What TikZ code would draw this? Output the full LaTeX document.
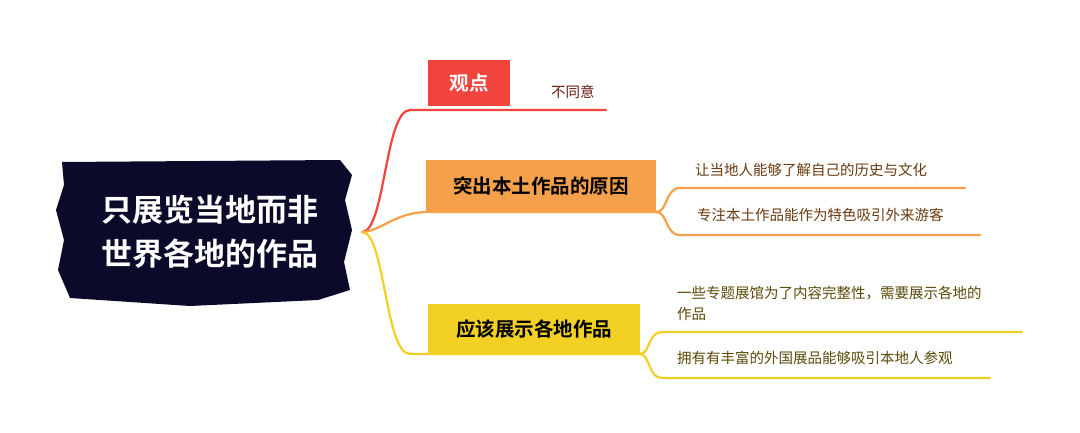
\documentclass[tikz,border=0pt]{standalone}
\usepackage{fontspec}
\setmainfont{Noto Sans CJK SC}
\newfontfamily\cjkb{Noto Sans CJK SC Bold}
\begin{document}
\begin{tikzpicture}[x=1pt,y=-1pt,
  leaf/.style={anchor=west,inner sep=0pt,font=\fontsize{14.5}{18}\selectfont},
  br/.style={inner sep=0pt,font=\cjkb\fontsize{19.5}{22}\selectfont,text=black},
  ln/.style={line width=2.2pt,line cap=round}]
\definecolor{navy}{HTML}{0B0A2A}
\definecolor{rd}{HTML}{F0443C}
\definecolor{org}{HTML}{F5A04A}
\definecolor{yel}{HTML}{F2D024}
\definecolor{dred}{HTML}{6A1A14}
\definecolor{dorg}{HTML}{6A3A10}
\definecolor{dyel}{HTML}{5A4A08}
\useasboundingbox (0,0) rectangle (1080,433);
\fill[white] (0,0) rectangle (1080,433);
% root
\fill[navy] (62,162) -- (340,160) -- (352,175) -- (345,200) -- (352,230) -- (344,262) -- (350,290) -- (318,300) -- (190,306) -- (70,298) -- (58,270) -- (64,240) -- (56,210) -- (64,185) -- cycle;
\node[inner sep=0pt,text=white,align=center,font=\cjkb\fontsize{31}{44}\selectfont] (root) at (210,232) {只展览当地而非\\世界各地的作品};
% branch boxes
\fill[rd] (428,60) rectangle (510,106);
\node[br,text=white] (b1) at (469,83) {观点};
\fill[org] (426,160) rectangle (656,212);
\node[br] (b2) at (541,186) {突出本土作品的原因};
\fill[yel] (428,304) rectangle (640,354);
\node[br] (b3) at (534,329) {应该展示各地作品};
% connectors from root
\coordinate (rs) at (362,232);
\draw[ln,rd] (rs) .. controls (385,232) and (385,110) .. (410,110) -- (606,110);
\draw[ln,org] (rs) .. controls (380,232) and (395,212) .. (428,212) -- (656,212);
\draw[ln,yel] (rs) .. controls (385,232) and (385,354) .. (410,354) -- (640,354);
% leaves
\node[leaf,text=dred] (l1) at (551,92) {不同意};
\node[leaf,text=dorg] (l2) at (695,170) {让当地人能够了解自己的历史与文化};
\draw[ln,org] (656,212) .. controls (668,212) and (665,188) .. (680,188) -- (965,188);
\node[leaf,text=dorg] (l3) at (697,215) {专注本土作品能作为特色吸引外来游客};
\draw[ln,org] (656,212) .. controls (668,212) and (665,235) .. (680,235) -- (980,235);
\node[leaf,text=dyel,align=left,font=\fontsize{14.5}{21}\selectfont] (l4) at (677,303) {一些专题展馆为了内容完整性，需要展示各地的\\作品};
\draw[ln,yel] (640,354) .. controls (650,354) and (648,332) .. (662,332) -- (1022,332);
\node[leaf,text=dyel] (l5) at (677,358) {拥有有丰富的外国展品能够吸引本地人参观};
\draw[ln,yel] (640,354) .. controls (650,354) and (648,378) .. (662,378) -- (990,378);
\end{tikzpicture}
\end{document}
